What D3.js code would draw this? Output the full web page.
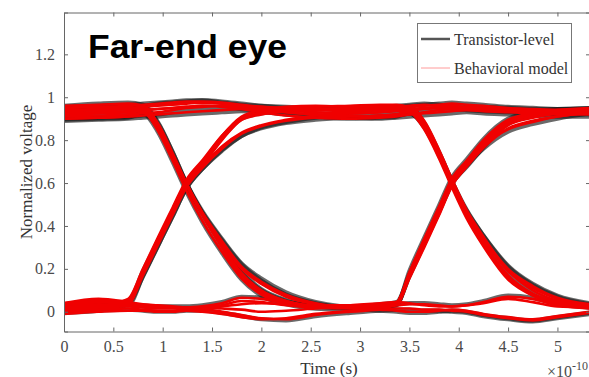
<!DOCTYPE html>
<html lang="en">
<head>
    <meta charset="UTF-8">
    <title>Far-end eye</title>
    <script src="https://d3js.org/d3.v7.min.js"></script>
    <style>
        body {
            margin: 0;
            background-color: white;
        }
        svg {
            display: block;
        }
        .tick-label {
            font-family: "Liberation Serif", "Times New Roman", serif;
            font-size: 16px;
            fill: #4a4a4a;
        }
    </style>
</head>
<body>
    <script>
        // Time samples (x 1e-10 s), shared by every trace
        const timeSamples = [0, 0.35, 0.65, 0.8, 0.95, 1.1, 1.24, 1.4, 1.6, 1.8, 2.0, 2.25, 2.55,
            2.9, 3.2, 3.37, 3.5, 3.65, 3.8, 3.93, 4.08, 4.25, 4.5, 4.75, 5.0, 5.33];

        // Transistor-level traces (normalized voltage)
        const transistorTraces = [
            [0.94, 0.95, 0.955, 0.96, 0.97, 0.975, 0.98, 0.985, 0.975, 0.965, 0.96, 0.955, 0.95, 0.945, 0.95, 0.955, 0.96, 0.965, 0.97, 0.975, 0.97, 0.965, 0.955, 0.95, 0.945, 0.94],
            [0.89, 0.895, 0.9, 0.905, 0.91, 0.915, 0.92, 0.925, 0.93, 0.935, 0.93, 0.92, 0.91, 0.905, 0.9, 0.905, 0.91, 0.915, 0.92, 0.925, 0.93, 0.925, 0.92, 0.915, 0.91, 0.91],
            [0.955, 0.96, 0.965, 0.97, 0.975, 0.98, 0.985, 0.985, 0.98, 0.97, 0.96, 0.95, 0.945, 0.94, 0.945, 0.95, 0.955, 0.88, 0.745, 0.61, 0.46, 0.33, 0.17, 0.09, 0.045, 0.02],
            [0.90, 0.905, 0.91, 0.915, 0.92, 0.93, 0.94, 0.945, 0.95, 0.945, 0.935, 0.92, 0.91, 0.9, 0.905, 0.91, 0.925, 0.865, 0.74, 0.61, 0.475, 0.355, 0.21, 0.125, 0.07, 0.035],
            [0.945, 0.95, 0.955, 0.955, 0.88, 0.745, 0.6, 0.46, 0.31, 0.18, 0.1, 0.05, 0.025, 0.015, 0.02, 0.035, 0.165, 0.315, 0.465, 0.595, 0.675, 0.765, 0.875, 0.91, 0.925, 0.935],
            [0.915, 0.92, 0.925, 0.93, 0.86, 0.725, 0.59, 0.465, 0.335, 0.22, 0.145, 0.08, 0.04, 0.02, 0.02, 0.035, 0.17, 0.32, 0.465, 0.595, 0.68, 0.76, 0.84, 0.875, 0.9, 0.925],
            [0.96, 0.97, 0.975, 0.965, 0.885, 0.745, 0.6, 0.46, 0.315, 0.19, 0.105, 0.055, 0.03, 0.025, 0.03, 0.035, 0.04, 0.04, 0.035, 0.03, 0.035, 0.05, 0.075, 0.065, 0.035, 0.02],
            [0.895, 0.9, 0.905, 0.925, 0.86, 0.73, 0.6, 0.47, 0.34, 0.225, 0.155, 0.09, 0.045, 0.02, 0.005, 0.0, -0.005, -0.005, 0.0, 0.005, 0.0, -0.015, -0.03, -0.04, -0.025, -0.005],
            [0.025, 0.035, 0.05, 0.19, 0.33, 0.47, 0.6, 0.69, 0.81, 0.9, 0.925, 0.94, 0.945, 0.95, 0.955, 0.96, 0.965, 0.97, 0.965, 0.96, 0.955, 0.955, 0.95, 0.945, 0.945, 0.945],
            [-0.005, 0.005, 0.035, 0.165, 0.305, 0.445, 0.575, 0.665, 0.755, 0.82, 0.86, 0.885, 0.905, 0.92, 0.925, 0.93, 0.935, 0.94, 0.945, 0.945, 0.94, 0.935, 0.93, 0.925, 0.92, 0.92],
            [0.025, 0.045, 0.035, 0.03, 0.025, 0.025, 0.025, 0.03, 0.045, 0.07, 0.065, 0.045, 0.03, 0.025, 0.035, 0.045, 0.175, 0.325, 0.475, 0.605, 0.69, 0.78, 0.885, 0.92, 0.94, 0.95],
            [0.0, 0.005, 0.01, 0.005, 0.0, 0.0, 0.005, 0.005, -0.005, -0.02, -0.035, -0.04, -0.02, -0.005, 0.005, 0.01, 0.01, 0.005, 0.005, 0.0, -0.005, -0.02, -0.035, -0.045, -0.03, -0.01],
            [0.93, 0.94, 0.945, 0.93, 0.84, 0.7, 0.56, 0.42, 0.275, 0.15, 0.075, 0.035, 0.015, 0.01, 0.015, 0.03, 0.19, 0.345, 0.495, 0.625, 0.71, 0.805, 0.9, 0.93, 0.945, 0.95],
            [0.035, 0.05, 0.03, 0.165, 0.305, 0.445, 0.575, 0.665, 0.75, 0.82, 0.855, 0.88, 0.895, 0.905, 0.91, 0.915, 0.925, 0.86, 0.73, 0.6, 0.47, 0.355, 0.215, 0.13, 0.075, 0.04]
        ];

        // Behavioral model traces (normalized voltage)
        const behavioralTraces = [
            [0.93, 0.945, 0.95, 0.955, 0.96, 0.965, 0.97, 0.975, 0.97, 0.96, 0.955, 0.95, 0.945, 0.94, 0.945, 0.95, 0.955, 0.96, 0.965, 0.97, 0.965, 0.96, 0.95, 0.945, 0.94, 0.935],
            [0.90, 0.905, 0.91, 0.915, 0.92, 0.925, 0.93, 0.935, 0.94, 0.945, 0.94, 0.93, 0.92, 0.915, 0.91, 0.915, 0.92, 0.925, 0.93, 0.935, 0.94, 0.935, 0.93, 0.925, 0.92, 0.92],
            [0.95, 0.955, 0.96, 0.965, 0.97, 0.975, 0.98, 0.98, 0.975, 0.965, 0.955, 0.945, 0.94, 0.935, 0.94, 0.945, 0.95, 0.87, 0.73, 0.60, 0.45, 0.32, 0.16, 0.08, 0.04, 0.02],
            [0.91, 0.915, 0.92, 0.925, 0.93, 0.94, 0.95, 0.955, 0.96, 0.955, 0.945, 0.93, 0.92, 0.91, 0.915, 0.92, 0.935, 0.87, 0.735, 0.605, 0.46, 0.34, 0.19, 0.11, 0.06, 0.03],
            [0.94, 0.945, 0.95, 0.95, 0.87, 0.73, 0.59, 0.45, 0.30, 0.17, 0.09, 0.045, 0.02, 0.015, 0.02, 0.035, 0.17, 0.32, 0.47, 0.60, 0.68, 0.77, 0.88, 0.915, 0.93, 0.94],
            [0.92, 0.925, 0.93, 0.935, 0.865, 0.73, 0.595, 0.46, 0.32, 0.20, 0.13, 0.07, 0.035, 0.02, 0.025, 0.04, 0.175, 0.325, 0.47, 0.6, 0.69, 0.775, 0.85, 0.885, 0.91, 0.93],
            [0.96, 0.965, 0.97, 0.96, 0.875, 0.735, 0.595, 0.455, 0.31, 0.18, 0.10, 0.05, 0.025, 0.02, 0.025, 0.03, 0.035, 0.035, 0.03, 0.025, 0.03, 0.045, 0.07, 0.06, 0.03, 0.015],
            [0.90, 0.905, 0.91, 0.93, 0.865, 0.735, 0.6, 0.465, 0.33, 0.21, 0.14, 0.08, 0.04, 0.02, 0.01, 0.005, 0.0, 0.0, 0.005, 0.01, 0.005, -0.01, -0.025, -0.035, -0.02, 0.0],
            [0.02, 0.03, 0.045, 0.18, 0.32, 0.46, 0.59, 0.68, 0.80, 0.895, 0.92, 0.935, 0.94, 0.945, 0.95, 0.955, 0.96, 0.965, 0.96, 0.955, 0.95, 0.95, 0.945, 0.94, 0.94, 0.94],
            [0.0, 0.01, 0.04, 0.175, 0.315, 0.455, 0.585, 0.675, 0.77, 0.835, 0.87, 0.895, 0.915, 0.925, 0.93, 0.935, 0.94, 0.945, 0.95, 0.95, 0.945, 0.94, 0.935, 0.93, 0.925, 0.925],
            [0.03, 0.045, 0.05, 0.185, 0.325, 0.465, 0.595, 0.69, 0.81, 0.90, 0.93, 0.945, 0.955, 0.96, 0.965, 0.965, 0.95, 0.875, 0.74, 0.6, 0.455, 0.325, 0.17, 0.085, 0.045, 0.025],
            [0.01, 0.02, 0.035, 0.17, 0.31, 0.45, 0.58, 0.67, 0.76, 0.83, 0.865, 0.89, 0.905, 0.91, 0.915, 0.92, 0.93, 0.865, 0.735, 0.605, 0.465, 0.345, 0.2, 0.12, 0.065, 0.035],
            [0.02, 0.035, 0.03, 0.025, 0.02, 0.02, 0.02, 0.025, 0.04, 0.065, 0.06, 0.04, 0.025, 0.02, 0.03, 0.04, 0.17, 0.32, 0.47, 0.6, 0.685, 0.775, 0.88, 0.915, 0.935, 0.945],
            [-0.01, 0.0, 0.005, 0.005, 0.0, 0.0, 0.005, 0.0, -0.01, -0.025, -0.035, -0.03, -0.01, 0.005, 0.02, 0.035, 0.165, 0.315, 0.465, 0.595, 0.685, 0.765, 0.855, 0.89, 0.91, 0.93],
            [0.04, 0.06, 0.045, 0.035, 0.03, 0.025, 0.02, 0.02, 0.03, 0.05, 0.045, 0.03, 0.02, 0.03, 0.04, 0.045, 0.04, 0.03, 0.025, 0.025, 0.03, 0.04, 0.06, 0.045, 0.025, 0.02],
            [0.005, 0.01, 0.015, 0.01, 0.005, 0.005, 0.01, 0.01, 0.0, -0.015, -0.03, -0.035, -0.015, 0.0, 0.01, 0.015, 0.015, 0.01, 0.01, 0.005, 0.0, -0.015, -0.03, -0.04, -0.025, -0.005],
            [0.92, 0.93, 0.935, 0.94, 0.945, 0.95, 0.955, 0.96, 0.955, 0.945, 0.93, 0.915, 0.905, 0.90, 0.905, 0.91, 0.92, 0.93, 0.94, 0.945, 0.95, 0.95, 0.945, 0.94, 0.935, 0.93],
            [0.935, 0.94, 0.945, 0.955, 0.88, 0.74, 0.6, 0.46, 0.305, 0.175, 0.095, 0.05, 0.03, 0.03, 0.035, 0.045, 0.18, 0.33, 0.48, 0.61, 0.695, 0.79, 0.89, 0.925, 0.94, 0.95],
            [0.04, 0.05, 0.05, 0.185, 0.33, 0.47, 0.6, 0.695, 0.82, 0.91, 0.94, 0.955, 0.96, 0.955, 0.95, 0.945, 0.945, 0.95, 0.955, 0.96, 0.955, 0.95, 0.94, 0.935, 0.93, 0.93],
            [0.03, 0.045, 0.04, 0.03, 0.025, 0.02, 0.02, 0.02, 0.015, 0.01, 0.0, 0.005, 0.015, 0.025, 0.035, 0.045, 0.175, 0.325, 0.475, 0.605, 0.69, 0.785, 0.885, 0.92, 0.935, 0.94],
            [0.95, 0.955, 0.95, 0.935, 0.845, 0.705, 0.565, 0.425, 0.28, 0.155, 0.08, 0.04, 0.02, 0.02, 0.025, 0.04, 0.185, 0.34, 0.49, 0.62, 0.705, 0.8, 0.895, 0.925, 0.94, 0.945],
            [0.015, 0.025, 0.06, 0.2, 0.345, 0.485, 0.615, 0.705, 0.82, 0.9, 0.925, 0.94, 0.945, 0.95, 0.955, 0.955, 0.935, 0.85, 0.715, 0.58, 0.435, 0.305, 0.15, 0.075, 0.035, 0.02],
            [0.925, 0.93, 0.935, 0.94, 0.945, 0.95, 0.955, 0.96, 0.96, 0.955, 0.95, 0.94, 0.93, 0.925, 0.93, 0.94, 0.955, 0.89, 0.755, 0.62, 0.475, 0.35, 0.19, 0.1, 0.05, 0.025],
            [0.01, 0.02, 0.025, 0.02, 0.015, 0.015, 0.015, 0.02, 0.025, 0.035, 0.04, 0.035, 0.025, 0.02, 0.02, 0.03, 0.155, 0.3, 0.45, 0.585, 0.675, 0.765, 0.87, 0.905, 0.925, 0.94]
        ];

        const xTicks = [0, 0.5, 1, 1.5, 2, 2.5, 3, 3.5, 4, 4.5, 5];
        const yTicks = [0, 0.2, 0.4, 0.6, 0.8, 1, 1.2];
        const legendLabels = ["Transistor-level", "Behavioral model"];

        // Set up dimensions (plot box runs a little past the right edge)
        const width = 589, height = 377;
        const plot = {left: 64, right: 590, top: 12.5, bottom: 331.5};

        const svg = d3.select("body").append("svg")
            .attr("width", width)
            .attr("height", height);

        // Scales
        const xScale = d3.scaleLinear()
            .domain([0, 5.33])
            .range([plot.left, plot.right]);

        const yScale = d3.scaleLinear()
            .domain([-0.092, 1.395])
            .range([plot.bottom, plot.top]);

        svg.append("defs").append("clipPath")
            .attr("id", "clip")
            .append("rect")
            .attr("x", plot.left)
            .attr("y", plot.top)
            .attr("width", plot.right - plot.left)
            .attr("height", plot.bottom - plot.top);

        const line = d3.line()
            .x((d, i) => xScale(timeSamples[i]))
            .y(d => yScale(d))
            .curve(d3.curveMonotoneX);

        const traces = svg.append("g").attr("clip-path", "url(#clip)");

        // Transistor-level underneath
        traces.selectAll(".trans")
            .data(transistorTraces)
            .enter()
            .append("path")
            .attr("class", "trans")
            .attr("d", line)
            .attr("fill", "none")
            .attr("stroke", "#1a1a1a")
            .attr("stroke-opacity", 0.65)
            .attr("stroke-width", 4.2);

        // Behavioral model on top
        traces.selectAll(".behav")
            .data(behavioralTraces)
            .enter()
            .append("path")
            .attr("class", "behav")
            .attr("d", line)
            .attr("fill", "none")
            .attr("stroke", "#f00000")
            .attr("stroke-width", 2.6);

        // Axes, MATLAB style: box with inward ticks
        const axisColor = "#666";
        svg.append("g")
            .attr("transform", `translate(0,${plot.bottom})`)
            .call(d3.axisBottom(xScale).tickValues(xTicks).tickSize(-4).tickPadding(9).tickFormat(d3.format("")))
            .call(g => g.select(".domain").attr("stroke", axisColor))
            .call(g => g.selectAll(".tick line").attr("stroke", axisColor))
            .call(g => g.selectAll(".tick text").attr("class", "tick-label"));

        svg.append("g")
            .attr("transform", `translate(0,${plot.top})`)
            .call(d3.axisTop(xScale).tickValues(xTicks).tickSize(-4).tickFormat(""))
            .call(g => g.select(".domain").attr("stroke", axisColor))
            .call(g => g.selectAll(".tick line").attr("stroke", axisColor));

        svg.append("g")
            .attr("transform", `translate(${plot.left},0)`)
            .call(d3.axisLeft(yScale).tickValues(yTicks).tickSize(-4).tickPadding(9).tickFormat(d3.format("")))
            .call(g => g.select(".domain").attr("stroke", axisColor))
            .call(g => g.selectAll(".tick line").attr("stroke", axisColor))
            .call(g => g.selectAll(".tick text").attr("class", "tick-label"));

        svg.append("g")
            .attr("transform", `translate(${plot.right},0)`)
            .call(d3.axisRight(yScale).tickValues(yTicks).tickSize(-4).tickFormat(""))
            .call(g => g.select(".domain").attr("stroke", axisColor))
            .call(g => g.selectAll(".tick line").attr("stroke", axisColor));

        // Axis labels
        svg.append("text")
            .attr("x", 329)
            .attr("y", 374)
            .attr("text-anchor", "middle")
            .style("font-family", "'Liberation Serif', serif")
            .style("font-size", "17px")
            .style("fill", "#333")
            .text("Time (s)");

        svg.append("text")
            .attr("transform", "translate(32,172) rotate(-90)")
            .attr("text-anchor", "middle")
            .style("font-family", "'Liberation Serif', serif")
            .style("font-size", "17px")
            .style("fill", "#333")
            .text("Normalized voltage");

        const expo = svg.append("text")
            .attr("x", 547)
            .attr("y", 377)
            .style("font-family", "'Liberation Serif', serif")
            .style("font-size", "16px")
            .style("fill", "#4a4a4a");
        expo.append("tspan").text("\u00d710");
        expo.append("tspan").attr("dy", -7).style("font-size", "12px").text("-10");

        // Title
        svg.append("text")
            .attr("x", 88)
            .attr("y", 58)
            .attr("textLength", 199)
            .attr("lengthAdjust", "spacingAndGlyphs")
            .style("font-family", "'Liberation Sans', Arial, sans-serif")
            .style("font-weight", "bold")
            .style("font-size", "33px")
            .style("fill", "black")
            .text("Far-end eye");

        // Legend
        const legend = svg.append("g");
        legend.append("rect")
            .attr("x", 417.5)
            .attr("y", 23.5)
            .attr("width", 154)
            .attr("height", 59)
            .attr("fill", "white")
            .attr("stroke", "#777");

        const legendStyles = [
            {stroke: "#555", width: 2.5},
            {stroke: "#ff9a9a", width: 1}
        ];
        legendLabels.forEach((label, i) => {
            const ly = 39 + i * 29;
            legend.append("line")
                .attr("x1", 421).attr("x2", 450)
                .attr("y1", ly).attr("y2", ly)
                .attr("stroke", legendStyles[i].stroke)
                .attr("stroke-width", legendStyles[i].width);
            legend.append("text")
                .attr("x", 454)
                .attr("y", ly)
                .attr("dy", "0.35em")
                .style("font-family", "'Liberation Serif', serif")
                .style("font-size", "16px")
                .style("fill", "#333")
                .text(label);
        });
    </script>
</body>
</html>
